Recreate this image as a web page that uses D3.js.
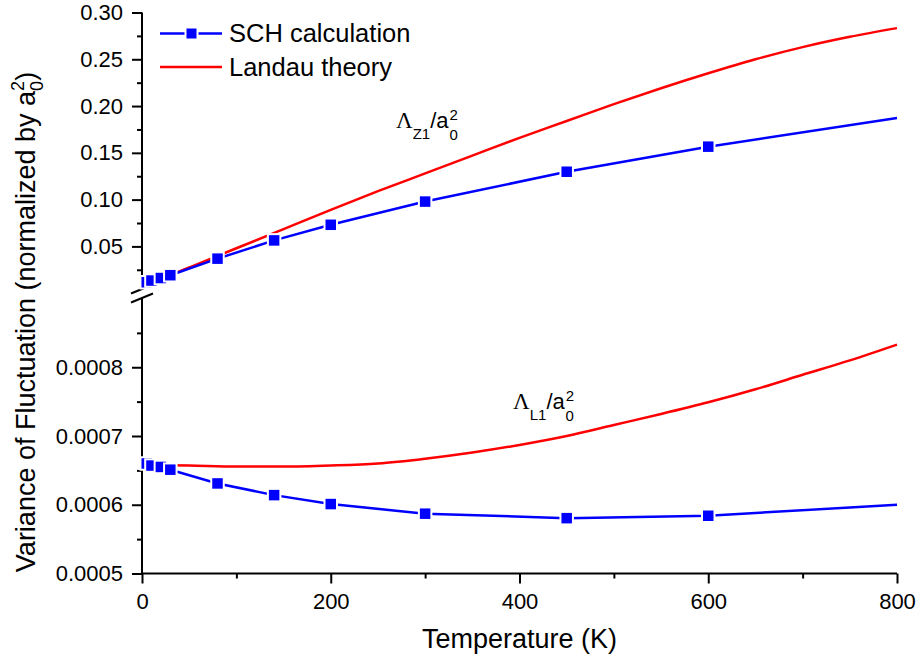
<!DOCTYPE html>
<html lang="en">
  <head>
    <meta charset="UTF-8" />
    <title>Variance of Fluctuation vs Temperature</title>
    <script src="https://d3js.org/d3.v7.min.js"></script>
    <style>
      body {
        margin: 0;
        background: white;
        font-family: Arial, "Liberation Sans", sans-serif;
      }
      .tick text {
        font-size: 22px;
        fill: black;
      }
      .tick line {
        stroke: black;
        stroke-width: 2px;
      }
    </style>
  </head>
  <body>
    <script>
      // SCH calculation (blue squares)
      const tempSCH = [5, 10, 20, 30, 80, 140, 200, 300, 450, 600, 800];
      const schZ1 = [0.0117, 0.0135, 0.0162, 0.0192, 0.0369, 0.0564, 0.0731, 0.0979, 0.1298, 0.1566, 0.1872];
      const schL1 = [0.00066, 0.000657, 0.000655, 0.000651, 0.000631, 0.000614, 0.000601, 0.000587, 0.0005805, 0.000584, 0.0006];

      // Landau theory (red curves)
      const tempLandau = [0, 50, 100, 150, 200, 250, 300, 350, 400, 450, 500, 550, 600, 650, 700, 750, 800];
      const landauZ1 = [0.007, 0.0275, 0.048, 0.0685, 0.089, 0.109, 0.128, 0.147, 0.166, 0.184, 0.202, 0.219, 0.235, 0.25, 0.263, 0.274, 0.2833];
      const landauL1 = [0.000658, 0.000657, 0.0006555, 0.0006555, 0.000657, 0.00066, 0.000667, 0.000676, 0.000687, 0.0007, 0.000716, 0.000732, 0.000749, 0.000768, 0.000789, 0.00081, 0.000833];

      // tick values
      const xTicks = [0, 200, 400, 600, 800];
      const xMinor = [100, 300, 500, 700];
      const topTicks = [0.05, 0.1, 0.15, 0.2, 0.25, 0.3];
      const topMinor = [0.025, 0.075, 0.125, 0.175, 0.225, 0.275];
      const botTicks = [0.0005, 0.0006, 0.0007, 0.0008];
      const botMinor = [0.00055, 0.00065, 0.00075, 0.00085];

      const width = 917;
      const height = 666;
      const root = d3
        .select("body")
        .append("svg")
        .attr("width", width)
        .attr("height", height);
      // small downward nudge so the top tick label is not clipped
      const svg = root.append("g").attr("transform", "translate(0,2.5)");

      const blue = "#0000ff";
      const red = "#ff0000";
      const markerSize = 12.5;

      // one x scale, two stacked y scales with a break between them
      const x = d3.scaleLinear().domain([0, 800]).range([142, 897]);
      const yTop = d3.scaleLinear().domain([0.005, 0.3]).range([286, 10]);
      const yBot = d3.scaleLinear().domain([0.0005, 0.0009]).range([571, 296]);

      // axes (domain paths drawn by hand below)
      function drawAxis(axis, tx, ty) {
        const g = svg
          .append("g")
          .attr("transform", `translate(${tx},${ty})`)
          .call(axis);
        g.select(".domain").remove();
        return g;
      }

      const yAxisBase = yBot.range()[0];
      drawAxis(d3.axisBottom(x).tickValues(xTicks).tickSize(10).tickPadding(10).tickFormat(d3.format("d")), 0, yAxisBase);
      drawAxis(d3.axisBottom(x).tickValues(xMinor).tickSize(5).tickFormat(""), 0, yAxisBase);
      drawAxis(d3.axisLeft(yTop).tickValues(topTicks).tickSize(10).tickPadding(9).tickFormat(d3.format(".2f")), 142, 0);
      drawAxis(d3.axisLeft(yTop).tickValues(topMinor).tickSize(5).tickFormat(""), 142, 0);
      drawAxis(d3.axisLeft(yBot).tickValues(botTicks).tickSize(10).tickPadding(9).tickFormat(d3.format(".4f")), 142, 0);
      drawAxis(d3.axisLeft(yBot).tickValues(botMinor).tickSize(5).tickFormat(""), 142, 0);

      const axisLines = [
        [x(0), yTop(0.3), x(0), yTop.range()[0]],
        [x(0), yBot.range()[1], x(0), yBot.range()[0]],
        [x(0) - 1, yAxisBase, x(800), yAxisBase],
      ];
      svg
        .selectAll(".axis-line")
        .data(axisLines)
        .enter()
        .append("line")
        .attr("x1", (d) => d[0])
        .attr("y1", (d) => d[1])
        .attr("x2", (d) => d[2])
        .attr("y2", (d) => d[3])
        .attr("stroke", "black")
        .attr("stroke-width", 2);

      // break marks
      const breakMid = (yTop.range()[0] + yBot.range()[1]) / 2;
      [-4.5, 4.5].forEach((off) => {
        svg
          .append("line")
          .attr("x1", x(0) - 11)
          .attr("y1", breakMid + off + 4.5)
          .attr("x2", x(0) + 11)
          .attr("y2", breakMid + off - 4.5)
          .attr("stroke", "black")
          .attr("stroke-width", 2);
      });

      // curves
      function drawPanel(yScale, sch, landau) {
        const landauLine = d3
          .line()
          .x((d, i) => x(tempLandau[i]))
          .y((d) => yScale(d))
          .curve(d3.curveMonotoneX);
        svg
          .append("path")
          .datum(landau)
          .attr("d", landauLine)
          .attr("fill", "none")
          .attr("stroke", red)
          .attr("stroke-width", 2.5);

        const schLine = d3
          .line()
          .x((d, i) => x(tempSCH[i]))
          .y((d) => yScale(d));
        svg
          .append("path")
          .datum(sch)
          .attr("d", schLine)
          .attr("fill", "none")
          .attr("stroke", blue)
          .attr("stroke-width", 2.5);

        // markers, white rim gives the gap in the line; none at 800 K
        const pts = sch
          .map((v, i) => ({ t: tempSCH[i], v: v }))
          .filter((d) => d.t < 800);
        svg
          .append("g")
          .selectAll("rect")
          .data(pts)
          .enter()
          .append("rect")
          .attr("x", (d) => x(d.t) - markerSize / 2)
          .attr("y", (d) => yScale(d.v) - markerSize / 2)
          .attr("width", markerSize)
          .attr("height", markerSize)
          .attr("fill", blue)
          .attr("stroke", "white")
          .attr("stroke-width", 2);
      }

      drawPanel(yTop, schZ1, landauZ1);
      drawPanel(yBot, schL1, landauL1);

      // legend
      const legend = svg.append("g");
      legend
        .append("line")
        .attr("x1", 160)
        .attr("x2", 222)
        .attr("y1", 31)
        .attr("y2", 31)
        .attr("stroke", blue)
        .attr("stroke-width", 2.5);
      legend
        .append("rect")
        .attr("x", 185.5)
        .attr("y", 25)
        .attr("width", 12)
        .attr("height", 12)
        .attr("fill", blue)
        .attr("stroke", "white")
        .attr("stroke-width", 2);
      legend
        .append("line")
        .attr("x1", 160)
        .attr("x2", 222)
        .attr("y1", 64.5)
        .attr("y2", 64.5)
        .attr("stroke", red)
        .attr("stroke-width", 2.5);
      legend
        .append("text")
        .attr("x", 229)
        .attr("y", 39.5)
        .attr("font-size", 25.5)
        .text("SCH calculation");
      legend
        .append("text")
        .attr("x", 229)
        .attr("y", 73.5)
        .attr("font-size", 25.5)
        .text("Landau theory");

      // Lambda labels
      function lambdaLabel(xPos, yPos, sub) {
        const t = svg
          .append("text")
          .attr("x", xPos)
          .attr("y", yPos)
          .attr("font-size", 22);
        t.append("tspan")
          .attr("font-family", "'Liberation Serif', 'Times New Roman', serif")
          .attr("font-size", 23)
          .text("\u039B");
        t.append("tspan").attr("font-size", 15).attr("dy", 11).text(sub);
        t.append("tspan").attr("dy", -11).text("/a");
        t.append("tspan").attr("font-size", 15).attr("dy", -8).attr("dx", 1).text("2");
        t.append("tspan").attr("font-size", 15).attr("dy", 20).attr("dx", -8.5).text("0");
      }
      lambdaLabel(396, 125.5, "Z1");
      lambdaLabel(513, 406.5, "L1");

      // axis titles
      svg
        .append("text")
        .attr("x", x(400))
        .attr("y", 645.5)
        .attr("text-anchor", "middle")
        .attr("font-size", 27)
        .text("Temperature (K)");

      const yTitle = svg
        .append("text")
        .attr("transform", "translate(35,319.5) rotate(-90)")
        .attr("text-anchor", "middle")
        .attr("font-size", 27);
      yTitle.append("tspan").text("Variance of Fluctuation (normalized by a");
      yTitle.append("tspan").attr("font-size", 18).attr("dy", -11).text("2");
      yTitle.append("tspan").attr("font-size", 18).attr("dy", 19).attr("dx", -10).text("0");
      yTitle.append("tspan").attr("dy", -8).text(")");
    </script>
  </body>
</html>
